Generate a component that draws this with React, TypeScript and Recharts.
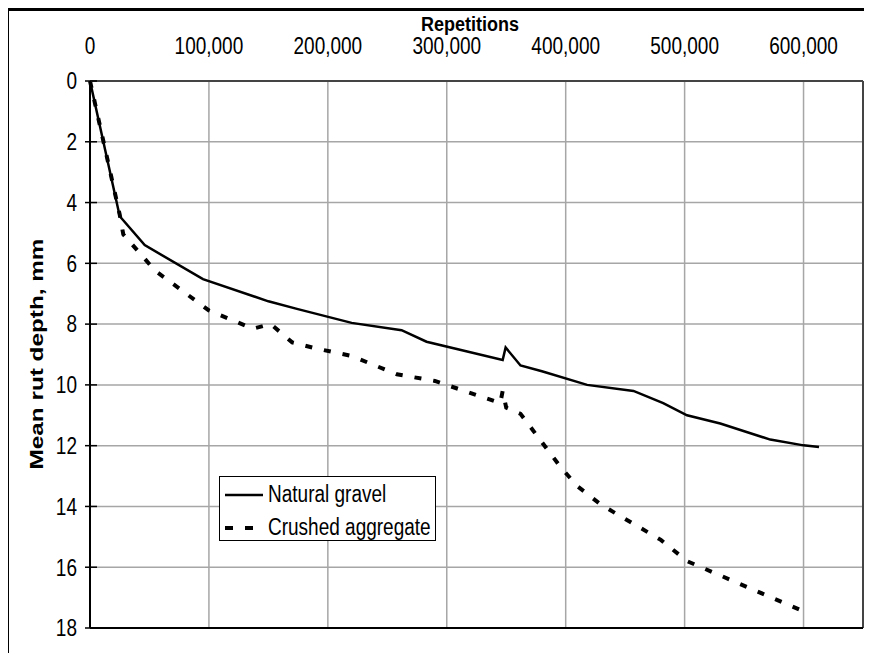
import React from 'react';
import { LineChart, Line, XAxis, YAxis, CartesianGrid, ReferenceLine, Legend } from 'recharts';

// repetitions vs mean rut depth (mm)
const gravelReps = [0, 25000, 46000, 95000, 150000, 174000, 220000, 262000, 283000, 347000, 349500, 362000, 380000, 418000, 457000, 482000, 502000, 530000, 572000, 600000, 613000];
const gravelRut = [0, 4.45, 5.4, 6.52, 7.25, 7.5, 7.96, 8.2, 8.58, 9.18, 8.77, 9.36, 9.55, 10.0, 10.2, 10.6, 11.0, 11.27, 11.8, 11.99, 12.04];

const crushedReps = [0, 25000, 28000, 55000, 100000, 137000, 152000, 170000, 190000, 220000, 258000, 290000, 345000, 347000, 350000, 362000, 396000, 410000, 430000, 480000, 502000, 603000];
const crushedRut = [0, 4.4, 5.05, 6.25, 7.55, 8.15, 8.0, 8.6, 8.8, 9.05, 9.65, 9.87, 10.6, 10.2, 10.75, 10.95, 12.72, 13.34, 13.95, 15.1, 15.8, 17.5];

const xTicks = [0, 100000, 200000, 300000, 400000, 500000, 600000];
const yTicks = [0, 2, 4, 6, 8, 10, 12, 14, 16, 18];

const gravelData = gravelReps.map((x, i) => ({ x, y: gravelRut[i] }));
const crushedData = crushedReps.map((x, i) => ({ x, y: crushedRut[i] }));

const FONT = '"Liberation Sans", Arial, sans-serif';
const STRETCH = 1.22; // the source picture is a bit squashed sideways

const TopTick = ({ x, y, payload }: any) => (
  <g transform={`translate(${x},${y}) scale(1,${STRETCH})`}>
    <text x={0} y={0} textAnchor="middle" fontSize={19} fontFamily={FONT} fill="#000">
      {Number(payload.value).toLocaleString('en-US')}
    </text>
  </g>
);

const LeftTick = ({ x, y, payload }: any) => (
  <g>
    <line x1={x + 8} x2={x + 20} y1={y} y2={y} stroke="#000" strokeWidth={1.5} />
    <g transform={`translate(${x},${y}) scale(1,${STRETCH})`}>
      <text x={0} y={0} dy="0.36em" textAnchor="end" fontSize={19} fontFamily={FONT} fill="#000">
        {payload.value}
      </text>
    </g>
  </g>
);

const BottomTick = ({ x, y }: any) => (
  <line x1={x} x2={x} y1={y - 13} y2={y} stroke="#000" strokeWidth={1.5} />
);

const legendText = { display: 'inline-block', transform: `scaleY(${STRETCH})` };

const LegendBox = () => (
  <div
    style={{
      width: 217,
      height: 65,
      border: '1.5px solid #000',
      background: '#fff',
      fontFamily: FONT,
      fontSize: 19,
      color: '#000',
      boxSizing: 'border-box',
      paddingTop: 1,
    }}
  >
    <div style={{ display: 'flex', alignItems: 'center', height: 33 }}>
      <svg width={48} height={10}>
        <line x1={5} x2={43} y1={5} y2={5} stroke="#000" strokeWidth={2.5} />
      </svg>
      <span style={legendText}>Natural gravel</span>
    </div>
    <div style={{ display: 'flex', alignItems: 'center', height: 33 }}>
      <svg width={48} height={10}>
        <line x1={5} x2={43} y1={5} y2={5} stroke="#000" strokeWidth={4} strokeDasharray="8 12" />
      </svg>
      <span style={legendText}>Crushed aggregate</span>
    </div>
  </div>
);

export default function App() {
  return (
    <div
      style={{
        position: 'relative',
        marginLeft: -2,
        width: 863,
        height: 642,
        borderTop: '3px solid #000',
        borderLeft: '3px solid #000',
        background: '#fff',
      }}
    >
      <LineChart width={863} height={642} margin={{ top: 28, right: 9, bottom: 5, left: 0 }}>
        <CartesianGrid xAxisId="top" stroke="#a6a6a6" strokeWidth={1.5} />
        <XAxis
          xAxisId="top"
          orientation="top"
          type="number"
          dataKey="x"
          domain={[0, 650000]}
          ticks={xTicks}
          interval={0}
          height={42}
          tickSize={0}
          tickMargin={27}
          tickLine={false}
          axisLine={{ stroke: '#444', strokeWidth: 2 }}
          tick={<TopTick />}
          label={{
            content: () => (
              <g transform="translate(461,19.5) scale(1,1.12)">
                <text x={0} y={0} textAnchor="middle" fontSize={18} fontWeight="bold" fontFamily={FONT} fill="#000">
                  Repetitions
                </text>
              </g>
            ),
          }}
        />
        <XAxis
          xAxisId="bottom"
          orientation="bottom"
          type="number"
          dataKey="x"
          domain={[0, 650000]}
          ticks={xTicks}
          interval={0}
          height={20}
          tickSize={7}
          tickMargin={0}
          tickLine={false}
          axisLine={{ stroke: '#000', strokeWidth: 2 }}
          tick={<BottomTick />}
        />
        <YAxis
          type="number"
          reversed
          domain={[0, 18]}
          ticks={yTicks}
          interval={0}
          width={81}
          tickSize={5}
          tickMargin={8}
          tickLine={false}
          axisLine={{ stroke: '#000', strokeWidth: 2 }}
          tick={<LeftTick />}
          label={{
            content: () => (
              <g transform="translate(27,343) rotate(-90) scale(1.28,1)">
                <text
                  x={0}
                  y={0}
                  textAnchor="middle"
                  dominantBaseline="central"
                  fontSize={19}
                  fontWeight="bold"
                  fontFamily={FONT}
                  fill="#000"
                >
                  Mean rut depth, mm
                </text>
              </g>
            ),
          }}
        />
        <ReferenceLine xAxisId="top" x={650000} stroke="#444" strokeWidth={2} />
        <Line
          xAxisId="top"
          data={gravelData}
          dataKey="y"
          type="linear"
          stroke="#000"
          strokeWidth={2.5}
          dot={false}
          isAnimationActive={false}
        />
        <Line
          xAxisId="top"
          data={crushedData}
          dataKey="y"
          type="linear"
          stroke="#000"
          strokeWidth={4}
          strokeDasharray="7 12"
          dot={false}
          isAnimationActive={false}
        />
        <Legend
          layout="horizontal"
          verticalAlign="middle"
          align="center"
          wrapperStyle={{ left: 210, top: 465, width: 220 }}
          content={() => <LegendBox />}
        />
      </LineChart>
    </div>
  );
}
